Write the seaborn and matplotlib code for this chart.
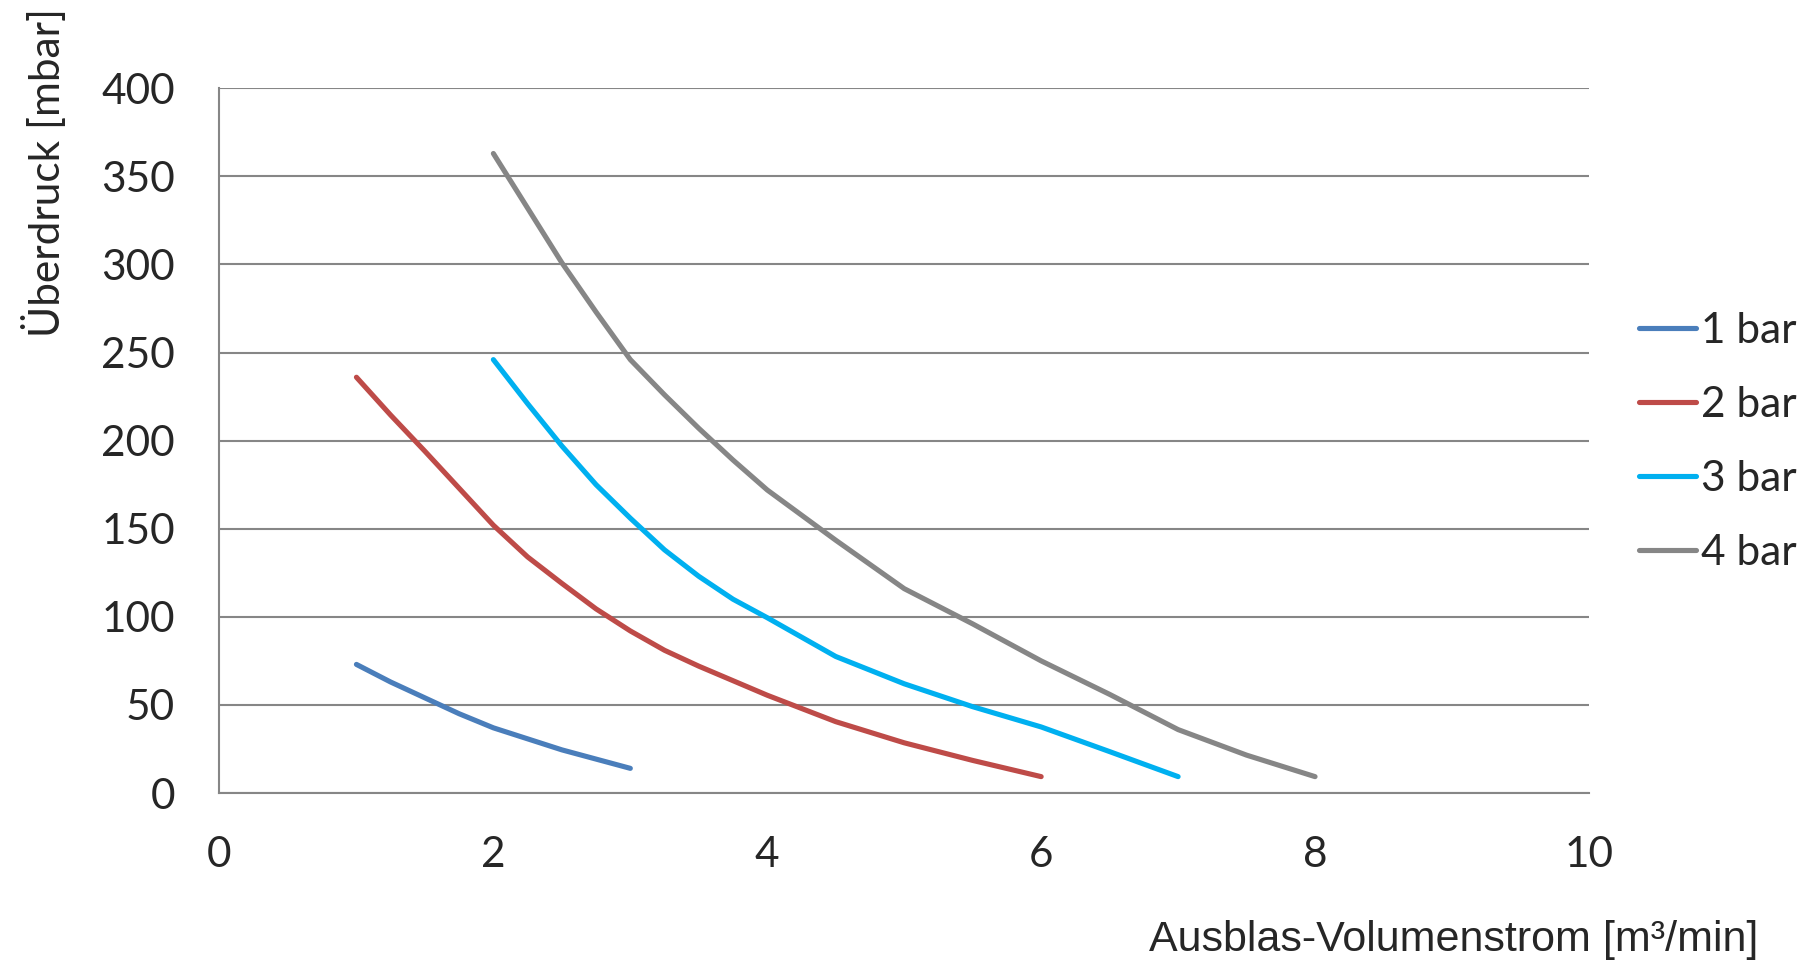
import pandas as pd
import matplotlib
matplotlib.use("Agg")
import matplotlib.pyplot as plt
import seaborn as sns

# Data
x_1bar = [1, 1.25, 1.5, 1.75, 2, 2.5, 3]
y_1bar = [73, 63, 54, 45, 37, 24.5, 14]

x_2bar = [1, 1.25, 1.5, 1.75, 2, 2.25, 2.5, 2.75, 3, 3.25, 3.5, 4, 4.5, 5, 5.5, 6]
y_2bar = [236, 214.5, 194, 173, 152, 134, 119, 104.5, 92, 81, 72, 55.5, 40.5, 28.5, 18.5, 9.3]

x_3bar = [2, 2.25, 2.5, 2.75, 3, 3.25, 3.5, 3.75, 4, 4.5, 5, 5.5, 6, 6.5, 7]
y_3bar = [246, 221, 197, 175, 156, 138, 123, 110, 99.5, 77.5, 62, 49, 37.5, 23.5, 9.3]

x_4bar = [2, 2.25, 2.5, 2.75, 3, 3.25, 3.5, 3.75, 4, 4.5, 5, 5.5, 6, 6.5, 7, 7.5, 8]
y_4bar = [363, 332, 301, 273, 246, 226, 207, 189, 172, 143.5, 116, 96, 75, 56, 36, 21.5, 9.3]

series = ["1 bar", "2 bar", "3 bar", "4 bar"]
colors = {"1 bar": "#4a7ebb", "2 bar": "#be4b48", "3 bar": "#00b0f0", "4 bar": "#868686"}

frames = []
for name, xs, ys in zip(series, [x_1bar, x_2bar, x_3bar, x_4bar], [y_1bar, y_2bar, y_3bar, y_4bar]):
    frames.append(pd.DataFrame({"x": xs, "y": ys, "Druck": name}))
df = pd.concat(frames, ignore_index=True)

sns.set_style("white")
plt.rcParams["font.family"] = ["Lato", "DejaVu Sans"]

fig = plt.figure(figsize=(18.05, 9.61), dpi=100)
ax = fig.add_axes([0.1216, 0.1748, 0.8803 - 0.1216, 0.9081 - 0.1748])

grid_col = "#868686"
sns.lineplot(data=df, x="x", y="y", hue="Druck", palette=colors, ax=ax,
             linewidth=3.7, solid_capstyle="round", solid_joinstyle="round",
             sort=False, legend=True)

ax.set_xlim(0, 10)
ax.set_ylim(0, 400)
ax.set_xticks(range(0, 11, 2))
ax.set_yticks(range(0, 401, 50))
ax.yaxis.grid(True, color=grid_col, linewidth=1.5)
ax.set_axisbelow(True)
for s in ["top", "right"]:
    ax.spines[s].set_visible(False)
for s in ["left", "bottom"]:
    ax.spines[s].set_color(grid_col)
    ax.spines[s].set_linewidth(1.5)
ax.tick_params(axis="y", length=11.5, width=1.5, color=grid_col, pad=20.5, labelsize=30.5)
ax.tick_params(axis="x", length=0, pad=31, labelsize=30.5)
ax.set_xlabel("")
ax.set_ylabel("")

fig.text(0.0246, 0.82, "Überdruck [mbar]", rotation=90, ha="center", va="center",
         fontsize=30.5)
fig.text(0.974, 0.022, "Ausblas-Volumenstrom [m³/min]", ha="right", va="center",
         fontsize=31, family="Liberation Sans")

handles, labels = ax.get_legend_handles_labels()
ax.legend(handles, labels, loc="center left", bbox_to_anchor=(0.908, 0.540),
          bbox_transform=fig.transFigure, frameon=False, fontsize=30.5,
          handlelength=1.35, handletextpad=0.12, labelspacing=0.85,
          borderpad=0, borderaxespad=0)

fig.savefig("out.png", dpi=100)
